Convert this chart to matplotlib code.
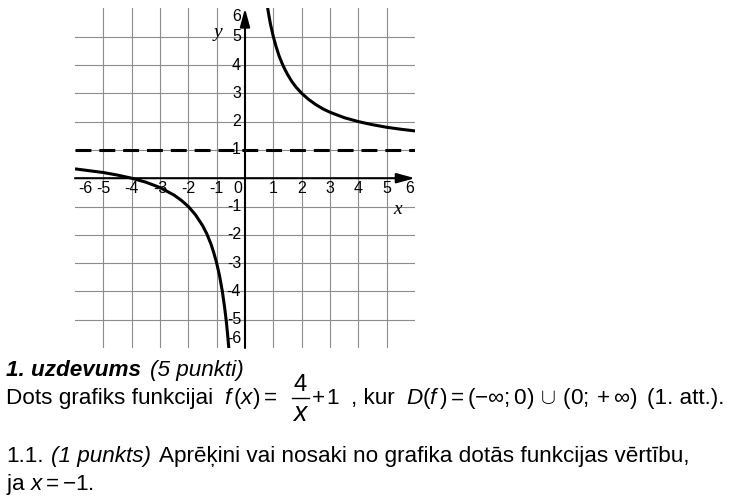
import numpy as np
import matplotlib.pyplot as plt
from matplotlib.lines import Line2D

plt.rcParams['font.family'] = 'Liberation Sans'
plt.rcParams['mathtext.fontset'] = 'custom'
plt.rcParams['mathtext.rm'] = 'Liberation Sans'
plt.rcParams['mathtext.it'] = 'Liberation Sans:italic'
plt.rcParams['mathtext.bf'] = 'Liberation Sans:bold'

# punkti, nolasiti no grafika (f(x) = 4/x + 1)
x_labais = [0.78, 0.85, 0.9, 1.0, 1.1, 1.2, 1.3, 1.4, 1.5, 1.65, 1.8, 2.0, 2.25,
            2.5, 2.75, 3.0, 3.5, 4.0, 4.5, 5.0, 5.5, 6.0]
y_labais = [6.13, 5.71, 5.44, 5.0, 4.64, 4.33, 4.08, 3.86, 3.67, 3.42, 3.22, 3.0,
            2.78, 2.6, 2.45, 2.33, 2.14, 2.0, 1.89, 1.8, 1.73, 1.67]
x_kreisais = [-6.0, -5.0, -4.5, -4.0, -3.5, -3.0, -2.5, -2.25, -2.0, -1.75, -1.5,
              -1.35, -1.2, -1.1, -1.0, -0.9, -0.8, -0.72, -0.66, -0.61, -0.57]
y_kreisais = [0.33, 0.2, 0.11, 0.0, -0.14, -0.33, -0.6, -0.78, -1.0, -1.29, -1.67,
              -1.96, -2.33, -2.64, -3.0, -3.44, -4.0, -4.56, -5.06, -5.56, -6.02]
asimptota = 1

x_ticks = [-6, -5, -4, -3, -2, -1, 0, 1, 2, 3, 4, 5, 6]
y_ticks = [-6, -5, -4, -3, -2, -1, 1, 2, 3, 4, 5, 6]
rezgis = [-5, -4, -3, -2, -1, 1, 2, 3, 4, 5]

W, H = 736, 501


def px(x, y):
    return x / W, 1 - y / H


fig = plt.figure(figsize=(W / 100, H / 100), dpi=100)
ax = fig.add_axes([75 / W, 1 - 348 / H, 340 / W, 339.6 / H])
ax.set_xlim(-6, 6)
ax.set_ylim(-6, 6)
ax.axis('off')

for v in rezgis:
    ax.axvline(v, color='#8c8c8c', lw=0.8, zorder=1)
    ax.axhline(v, color='#8c8c8c', lw=0.8, zorder=1)

# asis ar bultam
bulta = dict(arrowstyle='-|>,head_length=1.1,head_width=0.3', color='black',
             lw=1.5, mutation_scale=10, shrinkA=0, shrinkB=0)
ax.annotate('', xy=(6, 0), xytext=(-6, 0), arrowprops=bulta, zorder=3)
ax.annotate('', xy=(0, 6), xytext=(0, -6), arrowprops=bulta, zorder=3)

ax.axhline(asimptota, color='black', lw=2.2, dashes=(5.2, 2.6), zorder=4)
ax.plot(x_labais, y_labais, color='black', lw=2.2, zorder=5, solid_capstyle='butt')
ax.plot(x_kreisais, y_kreisais, color='black', lw=2.2, zorder=5, solid_capstyle='butt')

tfs = 11.5
for v in x_ticks:
    xp = v
    if v == -6:
        xp = -5.65
    elif v == 6:
        xp = 5.83
    elif v == 0:
        xp = -0.26
    ax.text(xp, -0.38, str(v), ha='center', va='center', fontsize=tfs, zorder=6)
for v in y_ticks:
    yp = v
    if v == 6:
        yp = 5.72
    elif v == -6:
        yp = -5.65
    ax.text(-0.14, yp, str(v), ha='right', va='center', fontsize=tfs, zorder=6)

ax.text(5.4, -1.1, 'x', family='Liberation Serif', style='italic', fontsize=14,
        ha='center', va='center', zorder=6)
ax.text(-0.97, 5.15, 'y', family='Liberation Serif', style='italic', fontsize=14,
        ha='center', va='center', zorder=6)

fs = 16.2
fig.text(*px(6, 376), '1. uzdevums', fontsize=fs, weight='bold', style='italic', va='baseline')
fig.text(*px(150, 376), '(5 punkti)', fontsize=fs, style='italic', va='baseline')

fig.text(*px(6, 404), 'Dots grafiks funkcijai', fontsize=fs, va='baseline')
fig.text(*px(224, 404), r'$f\,(x)=$', fontsize=fs, va='baseline')
# dalijums 4/x
fig.text(*px(300, 391), '4', fontsize=fs + 1, ha='center', va='baseline')
fig.lines.append(Line2D([292 / W, 309 / W], [1 - 397.5 / H, 1 - 397.5 / H],
                        transform=fig.transFigure, color='black', lw=1.0))
fig.text(*px(300, 421), 'x', fontsize=fs + 3, style='italic', ha='center', va='baseline')
fig.text(*px(312, 404), '+', fontsize=fs, va='baseline')
fig.text(*px(326, 404), '1', fontsize=fs, va='baseline')
fig.text(*px(351, 404), ', kur', fontsize=fs, va='baseline')
fig.text(*px(406, 404), r'$D(f\,)=(-\infty;0)\,\cup\,(0;+\infty)$', fontsize=fs, va='baseline')
fig.text(*px(647, 404), '(1. att.).', fontsize=fs, va='baseline')

fig.text(*px(6, 462), '1.1.', fontsize=fs, va='baseline')
fig.text(*px(51, 462), '(1 punkts)', fontsize=fs, style='italic', va='baseline')
fig.text(*px(159, 462), 'Aprēķini vai nosaki no grafika dotās funkcijas vērtību,',
         fontsize=fs, va='baseline')
fig.text(*px(6, 490), r'ja $x=-1$.', fontsize=fs, va='baseline')

fig.savefig('out.png', dpi=100)
